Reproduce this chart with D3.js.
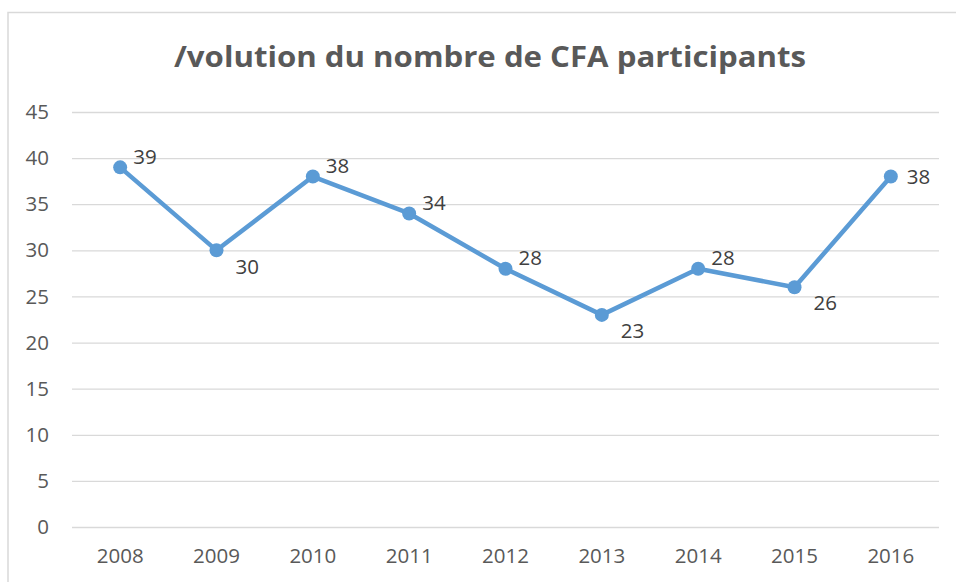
<!DOCTYPE html>
<html>
<head>
<meta charset="utf-8">
<script src="https://cdn.jsdelivr.net/npm/d3@7/dist/d3.min.js"></script>
<style>
  html, body { margin: 0; padding: 0; background: #fff; }
  svg { display: block; }
</style>
</head>
<body>
<svg id="chart" width="956" height="582"></svg>
<script>
const title = "/volution du nombre de CFA participants";
const years = ["2008", "2009", "2010", "2011", "2012", "2013", "2014", "2015", "2016"];
const participants = [39, 30, 38, 34, 28, 23, 28, 26, 38];
const yTicks = [0, 5, 10, 15, 20, 25, 30, 35, 40, 45];

const W = 956, H = 582;
const margin = { left: 72, right: 17, top: 112, bottom: 55 };
const svg = d3.select("#chart");
const font = "'Open Sans', 'Noto Sans', sans-serif";
const textColor = "#595959";
const fs = "20.5px";

// chart border
svg.append("path")
  .attr("d", `M8,${H} L8,12.5 L${W},12.5`)
  .attr("fill", "none")
  .attr("stroke", "#D9D9D9")
  .attr("stroke-width", 1.5);

const x = d3.scaleBand().domain(years).range([margin.left, W - margin.right]).paddingInner(0).paddingOuter(0);
const y = d3.scaleLinear().domain([0, 45]).range([H - margin.bottom, margin.top]);

// gridlines
const yAxis = d3.axisLeft(y).tickValues(yTicks).tickSize(-(W - margin.right - margin.left)).tickPadding(23);
const gy = svg.append("g").attr("transform", `translate(${margin.left},0)`).call(yAxis);
gy.select(".domain").remove();
gy.selectAll(".tick line").attr("stroke", "#D9D9D9").attr("stroke-width", 1.3);
gy.selectAll(".tick text")
  .attr("fill", textColor)
  .style("font-family", font)
  .style("font-size", fs);

// x axis labels
const xAxis = d3.axisBottom(x).tickSize(0).tickPadding(21);
const gx = svg.append("g").attr("transform", `translate(0,${H - margin.bottom})`).call(xAxis);
gx.select(".domain").remove();
gx.selectAll(".tick text")
  .attr("fill", textColor)
  .style("font-family", font)
  .style("font-size", fs);

const cx = (d, i) => x(years[i]) + x.bandwidth() / 2;

// line
const line = d3.line().x((d, i) => cx(d, i)).y(d => y(d));
svg.append("path")
  .datum(participants)
  .attr("fill", "none")
  .attr("stroke", "#5B9BD5")
  .attr("stroke-width", 4.5)
  .attr("stroke-linejoin", "round")
  .attr("d", line);

// markers
svg.selectAll("circle.pt")
  .data(participants)
  .join("circle")
  .attr("class", "pt")
  .attr("cx", cx)
  .attr("cy", d => y(d))
  .attr("r", 7)
  .attr("fill", "#5B9BD5");

// data labels: below for local minima, centred for the last point, above otherwise
function labelDy(i) {
  const v = participants[i];
  const prev = i > 0 ? participants[i - 1] : null;
  const next = i < participants.length - 1 ? participants[i + 1] : null;
  if (next === null) return 0;
  if ((prev === null || v < prev) && v < next) return 16;
  return -11;
}
function labelDx(i) {
  const dy = labelDy(i);
  return dy > 0 ? 19 : (dy === 0 ? 16 : 13);
}
svg.selectAll("text.lbl")
  .data(participants)
  .join("text")
  .attr("class", "lbl")
  .attr("x", (d, i) => cx(d, i) + labelDx(i))
  .attr("y", (d, i) => y(d) + labelDy(i))
  .attr("dy", "0.35em")
  .attr("fill", "#404040")
  .style("font-family", font)
  .style("font-size", fs)
  .text(d => d);

// title
svg.append("text")
  .attr("x", 490)
  .attr("y", 67)
  .attr("text-anchor", "middle")
  .attr("fill", textColor)
  .style("font-family", font)
  .style("font-weight", "bold")
  .style("font-size", "28px")
  .attr("textLength", 632)
  .attr("lengthAdjust", "spacingAndGlyphs")
  .text(title);
</script>
</body>
</html>
